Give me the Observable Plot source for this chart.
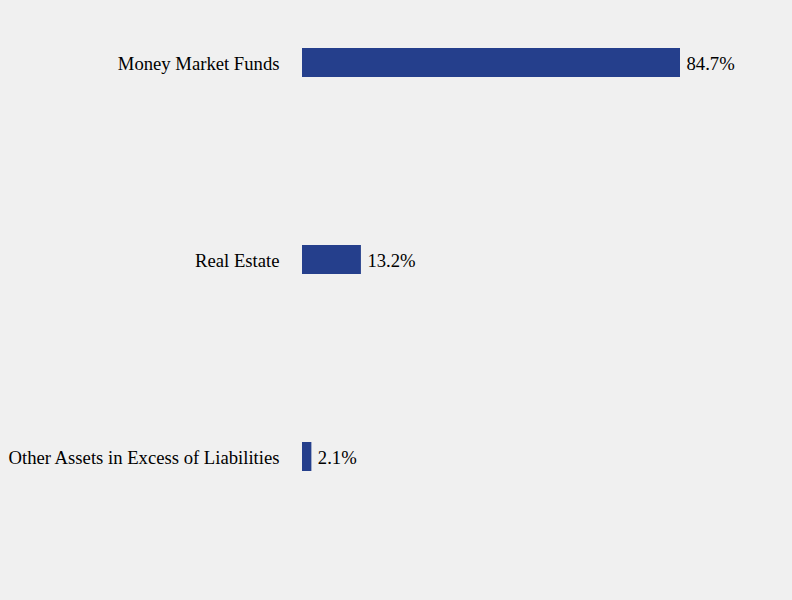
<!DOCTYPE html>
<html>
<head>
<meta charset="utf-8">
<script src="https://cdn.jsdelivr.net/npm/d3@7"></script>
<script src="https://cdn.jsdelivr.net/npm/@observablehq/plot@0.6"></script>
<style>
  html, body { margin: 0; padding: 0; background: #f0f0f0; }
  #chart { width: 792px; height: 600px; }
</style>
</head>
<body>
<div id="chart"></div>
<script>
const categories = ["Money Market Funds", "Real Estate", "Other Assets in Excess of Liabilities"];
const values = [84.7, 13.2, 2.1];
const valueLabels = ["84.7%", "13.2%", "2.1%"];

const data = categories.map((c, i) => ({category: c, value: values[i], label: valueLabels[i]}));

const fontFamily = "'Times New Roman', 'Liberation Serif', Times, serif";

const chart = Plot.plot({
  width: 792,
  height: 600,
  marginLeft: 302,
  marginRight: 112,
  marginTop: 0,
  marginBottom: 80.5,
  style: {background: "#f0f0f0", fontFamily, fontSize: "18.67px", color: "#000"},
  x: {domain: [0, 84.7], axis: null},
  y: {domain: categories, paddingInner: 0.853, paddingOuter: 0.245, label: null},
  marks: [
    Plot.axisY({tickSize: 0, tickPadding: 23, label: null, fontSize: 18.67, fill: "#000", dy: 1}),
    Plot.barX(data, {x: "value", y: "category", fill: "#253f8c"}),
    Plot.text(data, {x: "value", y: "category", text: "label", textAnchor: "start", dx: 6, dy: 1, fontSize: 18.67, fill: "#000"})
  ]
});
document.getElementById("chart").appendChild(chart);
</script>
</body>
</html>
